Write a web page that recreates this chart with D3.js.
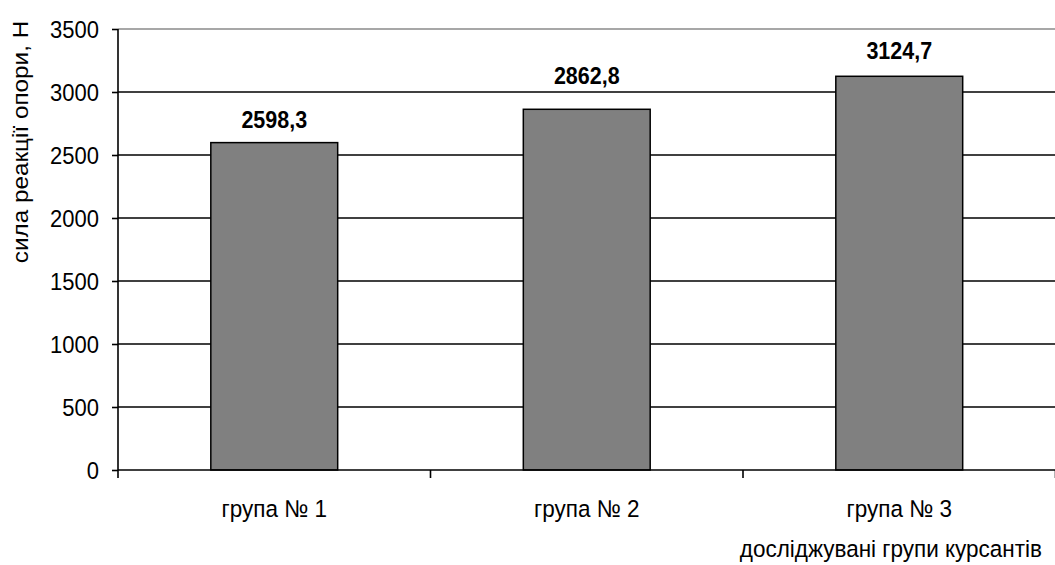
<!DOCTYPE html>
<html>
<head>
<meta charset="utf-8">
<script src="https://cdn.jsdelivr.net/npm/d3@7/dist/d3.min.js"></script>
<style>
  html, body { margin: 0; padding: 0; background: #fff; }
  svg text { font-family: "Liberation Sans", Arial, sans-serif; fill: #000; }
</style>
</head>
<body>
<svg id="chart" width="1055" height="565"></svg>
<script>
// Groups of cadets and the mean support reaction force, N
const groups = ["група № 1", "група № 2", "група № 3"];
const forces = [2598.3, 2862.8, 3124.7];
const valueLabels = ["2598,3", "2862,8", "3124,7"];
const yTicks = [0, 500, 1000, 1500, 2000, 2500, 3000, 3500];

// Extra lift of each value label above its bar, px
const labelLift = [15, 25, 17];

const svg = d3.select("#chart");
const margin = { left: 118, right: 0, top: 29, bottom: 95 };
const W = 1055.5, H = 565;

const x = d3.scaleBand()
  .domain(groups)
  .range([margin.left, W])
  .paddingInner(0.594)
  .paddingOuter(0.297);

const y = d3.scaleLinear()
  .domain([0, 3500])
  .range([470, 29]);

const stretch = 1.08;
const fs = 22.5;

// Horizontal gridlines
svg.append("g")
  .selectAll("line")
  .data(yTicks.filter(d => d > 0))
  .join("line")
  .attr("x1", margin.left)
  .attr("x2", W)
  .attr("y1", d => y(d))
  .attr("y2", d => y(d))
  .attr("stroke", d => d === 3500 ? "#8a8a8a" : "#000")
  .attr("stroke-width", 1.6);

// Bars
svg.append("g")
  .selectAll("rect")
  .data(groups)
  .join("rect")
  .attr("x", d => x(d))
  .attr("y", (d, i) => y(forces[i]))
  .attr("width", x.bandwidth())
  .attr("height", (d, i) => y(0) - y(forces[i]))
  .attr("fill", "#808080")
  .attr("stroke", "#000")
  .attr("stroke-width", 1.5);

// Y axis
const yAxis = svg.append("g")
  .attr("transform", `translate(${margin.left},0)`)
  .call(d3.axisLeft(y).tickValues(yTicks).tickSize(6).tickPadding(13).tickFormat(d3.format("d")));
yAxis.select(".domain").attr("stroke", "#000").attr("stroke-width", 1.6).attr("d", `M0,${y(3500)}V${y(0)}`);
yAxis.selectAll(".tick line").attr("stroke", "#000").attr("stroke-width", 1.6);
yAxis.selectAll(".tick text")
  .attr("font-size", 22)
  .attr("dy", null)
  .attr("y", 0)
  .attr("dominant-baseline", "central")
  .attr("transform", `scale(1,${stretch})`)
  .attr("fill", "#000");

// X axis: category boundaries as ticks
const xAxisG = svg.append("g").attr("transform", `translate(0,${y(0)})`);
xAxisG.append("line")
  .attr("x1", margin.left).attr("x2", W)
  .attr("stroke", "#000").attr("stroke-width", 1.6);
const step = x.step();
xAxisG.selectAll("line.tk")
  .data(d3.range(groups.length + 1))
  .join("line")
  .attr("class", "tk")
  .attr("x1", i => margin.left + i * step)
  .attr("x2", i => margin.left + i * step)
  .attr("y1", 0).attr("y2", 8)
  .attr("stroke", "#000").attr("stroke-width", 1.6);
xAxisG.selectAll("text.cat")
  .data(groups)
  .join("text")
  .attr("class", "cat")
  .attr("text-anchor", "middle")
  .attr("font-size", fs)
  .attr("transform", d => `translate(${x(d) + x.bandwidth() / 2},${517 - y(0)}) scale(1,${stretch})`)
  .text(d => d);

// Value labels
svg.append("g")
  .selectAll("text")
  .data(groups)
  .join("text")
  .attr("text-anchor", "middle")
  .attr("font-weight", "bold")
  .attr("font-size", 21.5)
  .attr("transform", (d, i) => `translate(${x(d) + x.bandwidth() / 2},${y(forces[i]) - labelLift[i]}) scale(1,${stretch})`)
  .text((d, i) => valueLabels[i]);

// Axis titles
svg.append("text")
  .attr("text-anchor", "end")
  .attr("font-size", fs)
  .attr("transform", `translate(1042,557) scale(1,${stretch})`)
  .text("досліджувані групи курсантів");

svg.append("text")
  .attr("text-anchor", "middle")
  .attr("font-size", fs)
  .attr("transform", `translate(28,142) rotate(-90) scale(${stretch},1)`)
  .text("сила реакції опори, Н");
</script>
</body>
</html>
